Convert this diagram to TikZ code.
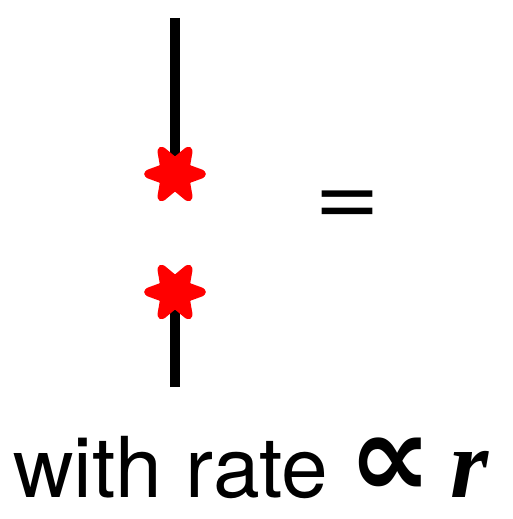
\documentclass[tikz,border=0pt]{standalone}
\usepackage{fontspec}
\setmainfont{TeX Gyre Heros}
\newfontfamily\rfont{Liberation Serif}
\newfontfamily\symfont{DejaVu Sans}
\begin{document}
\begin{tikzpicture}[x=1pt,y=-1pt]
\tikzset{
  wire/.style={line width=10pt, black},
  starshape/.style={fill=red, draw=red, line width=7pt, line join=round, rounded corners=3pt},
}
\useasboundingbox (0,0) rectangle (513,519);
\coordinate (top) at (175,18);
\coordinate (bot) at (175,387);
\coordinate (s1) at (175,174);
\coordinate (s2) at (175,292);
\draw[wire] (top) -- (s1);
\draw[wire] (bot) -- (s2);
\foreach \c in {s1,s2}{
  \draw[starshape, shift={(\c)}]
    (0:29) -- (30:13) -- (60:29) -- (90:13) -- (120:29) -- (150:13)
    -- (180:29) -- (210:13) -- (240:29) -- (270:13) -- (300:29) -- (330:13) -- cycle;
}
\node[font=\fontsize{95}{95}\selectfont, anchor=base west, inner sep=0pt] (eq) at (314,226) {\scalebox{1.19}[1]{=}};
\node[font=\fontsize{84}{84}\selectfont, anchor=base west, inner sep=0pt] (txt) at (13,497) {with rate};
\node[font=\fontsize{118}{118}\selectfont\symfont\bfseries, anchor=base west, inner sep=0pt] (prop) at (348,497) {∝};
\node[font=\fontsize{98}{98}\selectfont\rfont\bfseries\itshape, anchor=base west, inner sep=0pt] (r) at (450,497) {r};
\end{tikzpicture}
\end{document}
